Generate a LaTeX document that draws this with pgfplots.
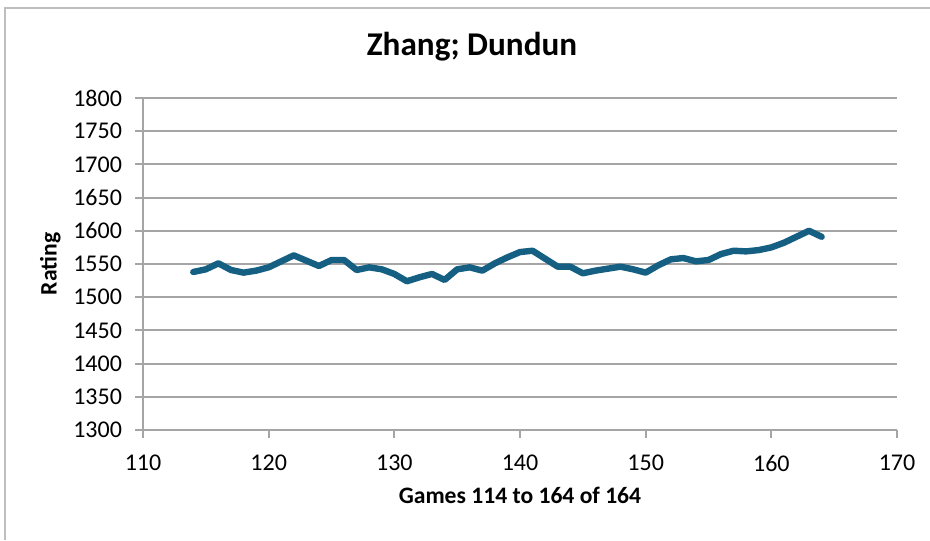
\documentclass[border=0pt]{standalone}
\usepackage{fontspec}
\setmainfont{Carlito}
\usepackage{pgfplots}
\pgfplotsset{compat=1.18}
\definecolor{lineBlue}{RGB}{21,96,130}
\definecolor{gridGray}{RGB}{165,165,165}
\definecolor{frameGray}{RGB}{190,190,190}

\begin{document}
\begin{tikzpicture}[x=0.5pt,y=0.5pt]
  % page = 930 x 540 px, 1px = 0.5pt
  \useasboundingbox (0,0) rectangle (930,540);
  \draw[frameGray,line width=1pt] (5,0) -- (5,532) -- (930,532);
  \node[font=\bfseries\fontsize{16.6}{19}\selectfont] at (472,493) {Zhang; Dundun};
  \begin{axis}[
      at={(143pt*0.5,110pt*0.5)},
      anchor=south west,
      scale only axis,
      width=377pt,
      height=166pt,
      xmin=110,xmax=170,
      ymin=1300,ymax=1800,
      xtick={110,120,...,170},
      ytick={1300,1350,...,1800},
      ymajorgrids,
      grid style={gridGray,line width=1pt},
      axis x line*=bottom,
      axis y line*=left,
      axis line style={gridGray,line width=1pt,-},
      x tick style={gridGray,line width=1pt},
      y tick style={gridGray,line width=1pt},
      major tick length=4pt,
      xtick pos=bottom, ytick pos=left,
      tick align=outside,
      /pgf/number format/assume math mode=true,
      /pgf/number format/1000 sep={},
      tick label style={font=\fontsize{12}{14}\selectfont},
      xticklabel style={yshift=-5pt},
      yticklabel style={xshift=-3pt},
      xlabel={\bfseries Games 114 to 164 of 164},
      ylabel={\bfseries Rating},
      label style={font=\fontsize{11.8}{14}\selectfont},
      xlabel style={yshift=-1pt},
      ylabel style={yshift=-0.5pt},
    ]
    \addplot[lineBlue,line width=3.2pt,line join=round,line cap=round] coordinates {
      (114,1538) (115,1542) (116,1551) (117,1541) (118,1537) (119,1540)
      (120,1545) (121,1554) (122,1563) (123,1555) (124,1547) (125,1556)
      (126,1556) (127,1541) (128,1545) (129,1542) (130,1535) (131,1524)
      (132,1530) (133,1535) (134,1526) (135,1542) (136,1545) (137,1540)
      (138,1551) (139,1560) (140,1568) (141,1570) (142,1558) (143,1546)
      (144,1546) (145,1536) (146,1540) (147,1543) (148,1546) (149,1542)
      (150,1537) (151,1548) (152,1557) (153,1559) (154,1554) (155,1556)
      (156,1565) (157,1570) (158,1569) (159,1571) (160,1575) (161,1582)
      (162,1591) (163,1600) (164,1591)
    };
  \end{axis}
\end{tikzpicture}
\end{document}
